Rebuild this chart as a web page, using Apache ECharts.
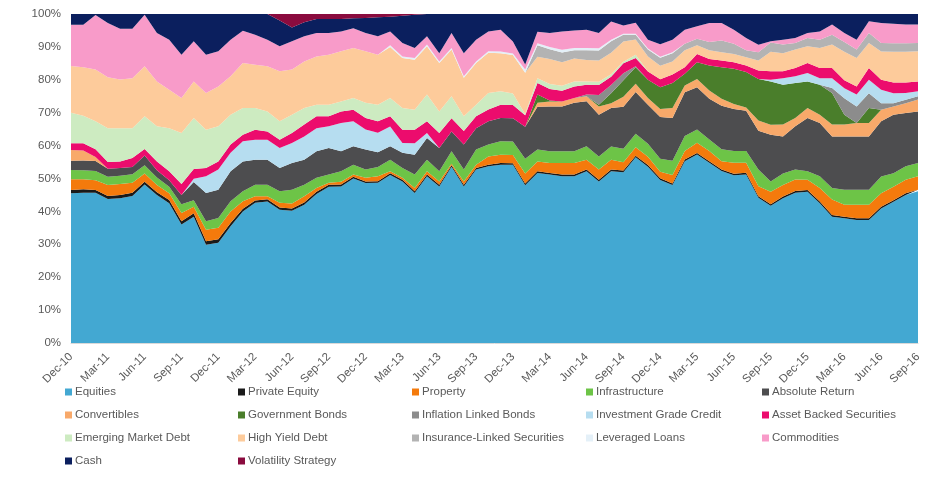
<!DOCTYPE html>
<html>
<head>
<meta charset="utf-8">
<style>
  html, body { margin: 0; padding: 0; background: #ffffff; }
  #chart { width: 926px; height: 477px; }
</style>
<script src="https://cdn.jsdelivr.net/npm/echarts@6/dist/echarts.min.js"></script>
</head>
<body>
<div id="chart"></div>
<script>
// Month-end dates, Dec-10 .. Sep-16
const months = [
  'Dec-10',
  'Jan-11','Feb-11','Mar-11','Apr-11','May-11','Jun-11','Jul-11','Aug-11','Sep-11','Oct-11','Nov-11','Dec-11',
  'Jan-12','Feb-12','Mar-12','Apr-12','May-12','Jun-12','Jul-12','Aug-12','Sep-12','Oct-12','Nov-12','Dec-12',
  'Jan-13','Feb-13','Mar-13','Apr-13','May-13','Jun-13','Jul-13','Aug-13','Sep-13','Oct-13','Nov-13','Dec-13',
  'Jan-14','Feb-14','Mar-14','Apr-14','May-14','Jun-14','Jul-14','Aug-14','Sep-14','Oct-14','Nov-14','Dec-14',
  'Jan-15','Feb-15','Mar-15','Apr-15','May-15','Jun-15','Jul-15','Aug-15','Sep-15','Oct-15','Nov-15','Dec-15',
  'Jan-16','Feb-16','Mar-16','Apr-16','May-16','Jun-16','Jul-16','Aug-16','Sep-16'
];

// Allocation weights (%) by asset class, one value per month
const equities = [45.5,45.7,45.7,43.8,44.0,44.7,48.2,45.0,42.5,36.0,38.4,29.9,30.5,35.5,40.0,42.6,43.0,40.5,40.2,42.0,45.3,47.5,47.6,50.0,48.6,48.7,51.1,49.1,45.6,50.7,47.6,53.6,47.6,52.7,53.7,54.2,54.2,48.1,51.7,51.2,50.7,50.7,52.2,49.1,52.2,51.6,56.6,53.6,50.0,48.0,55.1,57.1,54.6,52.1,50.8,51.1,44.0,41.7,44.0,45.7,46.0,42.5,38.4,37.9,37.4,37.4,40.9,42.9,45.0,46.1];
const privateEquity = [1.0,1.0,0.8,0.9,1.0,1.0,0.8,0.8,1.0,1.0,1.0,1.0,1.0,1.0,0.8,0.7,0.7,0.7,0.7,0.7,0.7,0.6,0.6,0.5,0.5,0.5,0.5,0.5,0.5,0.5,0.5,0.4,0.5,0.5,0.5,0.5,0.5,0.5,0.5,0.5,0.5,0.5,0.5,0.5,0.5,0.5,0.5,0.5,0.5,0.5,0.5,0.5,0.5,0.5,0.5,0.5,0.5,0.5,0.5,0.5,0.5,0.5,0.5,0.5,0.5,0.5,0.5,0.5,0.5,0.5];
const property = [3.3,3.1,3.0,3.3,3.3,3.0,2.5,2.2,2.0,2.5,2.0,3.5,3.5,3.5,2.3,1.3,0.9,1.4,1.5,1.9,1.1,0.6,0.8,0.7,1.1,1.5,0.6,0.6,1.0,1.0,1.0,0.5,1.0,1.0,2.5,2.5,2.5,3.1,3.0,3.0,3.5,3.5,3.0,3.1,3.0,2.5,2.6,2.5,2.0,2.6,2.6,3.1,3.1,2.5,3.3,3.0,3.0,3.8,3.5,3.5,3.1,4.1,4.7,3.6,4.1,4.1,4.1,4.1,4.1,4.1];
const infrastructure = [2.8,2.7,2.8,2.5,2.5,2.6,2.5,2.3,2.0,2.7,2.0,2.6,3.0,3.1,3.0,3.5,3.5,3.5,4.2,3.5,3.1,2.5,3.2,3.0,2.5,2.8,3.5,3.0,4.1,3.5,3.1,3.8,3.6,4.6,3.6,4.1,4.1,4.5,3.6,3.6,3.6,3.6,4.1,4.0,4.0,4.1,4.1,4.0,4.0,4.3,4.5,4.0,3.5,3.6,3.6,3.6,5.1,3.1,3.5,3.0,2.6,3.6,3.5,4.6,4.6,4.6,5.1,4.1,4.1,4.0];
const absoluteReturn = [2.8,3.0,3.0,2.5,2.4,2.2,3.0,2.2,2.0,2.8,5.5,8.6,8.6,9.1,9.1,7.6,7.6,7.1,8.1,7.6,8.1,8.1,6.1,5.6,6.1,4.5,4.1,4.6,6.0,6.6,7.1,6.0,7.6,6.5,7.1,7.1,7.1,9.7,13.0,13.6,13.6,14.7,13.7,12.7,11.7,12.7,12.7,11.8,12.8,13.0,13.3,12.8,12.3,13.2,12.7,12.2,11.7,14.2,11.3,13.2,16.2,16.2,15.7,16.2,16.2,16.2,16.8,17.8,16.2,15.7];
const convertibles = [3.3,3.0,1.2,0,0,0,0,0,0,0,0,0,0,0,0,0,0,0,0,0,0,0,0,0,0,0,0,0,0,0,0,0,0,0,0,0,0,0,1.2,1.5,1.5,1.5,1.5,2.5,1.5,3.0,2.5,2.1,2.5,3.0,2.0,2.5,2.5,2.1,1.5,1.0,3.1,3.0,3.6,2.5,3.0,2.5,3.6,3.6,4.1,4.1,3.5,2.5,3.0,3.6];
const governmentBonds = [0,0,0,0,0,0,0,0,0,0,0,0,0,0,0,0,0,0,0,0,0,0,0,0,0,0,0,0,0,0,0,0,0,0,0,0,0,0,2.5,0.3,0,0,0,0.5,3.0,5.0,5.1,5.5,6.6,7.6,3.6,5.1,7.6,9.6,10.7,10.7,12.6,13.2,12.1,10.6,8.1,9.1,9.6,3.0,0,4.5,0,0,0,0];
const inflationLinkedBonds = [0,0,0,0,0,0,0,0,0,0,0,0,0,0,0,0,0,0,0,0,0,0,0,0,0,0,0,0,0,0,0,0,0,0,0,0,0,0,0,0,0,0,0.5,3.0,2.5,2.1,0.3,0,0,0,0,0,0,0,0,0,0,0,0,0,0,0,1.5,5.0,5.0,4.5,2.0,1.0,1.0,1.0];
const investmentGradeCredit = [0,0,0,0,0,0,0,0,0,0,1.0,5.1,6.1,5.6,6.1,6.1,6.1,6.1,6.1,7.1,7.0,6.6,8.6,7.6,6.1,5.9,6.0,3.0,3.5,1.5,0,0,0,0,0,0,0,0,0,0,0,0,0,0,0,0,0,0,0,0,0,0,0,0,0,0,0,0.5,2.0,2.1,2.6,2.0,3.0,3.0,3.6,4.1,4.1,3.0,2.1,1.5];
const assetBackedSecurities = [2.0,2.2,2.4,2.0,2.0,2.7,2.0,2.7,2.7,3.3,3.0,2.5,2.5,2.5,2.0,3.0,2.5,2.5,3.0,3.6,3.6,3.0,3.5,3.5,3.5,3.5,3.1,4.0,4.1,3.6,4.5,4.0,4.1,3.6,3.6,4.0,4.0,3.5,3.5,3.5,3.3,3.5,3.0,3.0,2.5,3.0,2.5,2.5,2.5,2.6,2.0,2.5,2.0,2.0,2.0,2.0,2.6,2.6,2.1,2.5,3.0,3.1,3.1,2.5,2.5,3.6,3.0,3.3,3.2,3.0];
const emergingMarketDebt = [9.3,8.4,8.5,10.3,10.1,9.1,9.9,10.7,13.1,15.5,15.5,11.6,10.7,9.1,8.1,6.6,6.1,5.6,5.6,5.0,3.5,3.5,3.0,3.6,4.6,5.0,5.6,6.6,6.1,8.1,6.6,6.7,4.5,3.5,5.0,4.1,3.5,0.3,1.5,1.5,1.5,1.5,1.0,1.0,0.8,0.5,1.0,0,0,0,0,0,0,0,0,0,0,0,0,0,0,0,0,0,0,0,0,0,0,0];
const highYieldDebt = [14.2,14.7,15.7,15.5,14.8,15.2,15.2,13.6,11.7,10.7,11.1,11.2,12.1,11.7,13.7,13.2,13.7,15.2,13.7,14.2,14.7,15.2,15.3,15.2,15.7,15.2,15.5,15.2,15.2,14.7,14.7,14.2,11.7,12.7,12.2,11.6,11.7,12.7,6.5,7.6,7.1,7.0,6.5,6.5,6.5,6.1,4.6,4.6,4.1,4.0,5.1,2.6,2.6,2.5,2.5,2.5,3.0,5.9,5.5,5.6,5.1,6.1,7.1,8.6,8.6,7.6,8.6,9.3,9.3,9.2];
const insuranceLinked = [0,0,0,0,0,0,0,0,0,0,0,0,0,0,0,0,0,0,0,0,0,0,0,0,0,0,0,0,0,0,0,0,0,0,0,0,0,0,3.5,3.0,3.0,2.5,3.0,3.0,3.5,2.0,1.5,2.1,2.5,2.5,2.0,2.0,2.5,3.6,3.1,2.1,2.5,2.8,2.6,2.0,2.5,2.5,3.0,3.0,2.6,3.0,2.6,2.6,2.6,2.5];
const leveragedLoans = [0,0,0,0,0,0,0,0,0,0,0,0,0,0,0,0,0,0,0,0,0,0,0,0,0,0,0.5,0.5,0.5,0.5,0.5,0.5,0.5,0.5,0.5,0.5,0.5,1.0,0.6,0.7,0.8,0.7,0.7,0.7,0.5,0.3,0.3,0.3,0.3,0.3,0,0,0,0,0,0,0,0,0,0,0,0,0,0,0,0,0,0,0,0];
const commodities = [12.5,12.9,16.6,16.5,15.4,15.0,15.7,14.7,15.2,13.1,12.2,11.6,10.7,11.1,9.8,9.1,8.1,7.6,8.6,7.6,7.1,6.6,6.0,6.0,5.5,5.6,4.2,4.1,3.1,2.5,2.5,4.5,7.0,6.6,6.0,6.6,3.6,1.5,3.5,4.2,5.6,5.3,5.5,4.6,5.5,2.5,3.3,2.7,3.8,3.8,4.2,3.8,5.8,5.3,4.2,3.7,2.3,0.4,1.5,1.5,1.5,2.5,3.1,2.7,3.0,3.6,6.1,5.9,5.7,5.6];
const cash = [3.3,3.3,0.3,2.7,4.5,4.5,0.2,5.8,7.8,12.4,8.3,12.4,11.3,7.8,5.1,6.3,7.8,7.8,4.2,4.3,4.3,4.3,3.8,3.0,4.6,5.8,4.5,8.3,10.1,6.8,11.9,5.8,11.9,7.8,5.3,4.8,8.4,15.4,5.4,5.8,5.3,5.0,4.8,5.8,2.3,3.5,2.7,7.8,9.3,7.8,4.8,3.7,2.7,2.7,4.8,7.3,9.3,8.3,7.8,7.3,5.8,5.3,3.2,5.8,7.8,2.2,2.7,3.0,3.2,3.2];
const volatilityStrategy = [0,0,0,0,0,0,0,0,0,0,0,0,0,0,0,0,0,2.0,4.1,2.5,1.5,1.5,1.5,1.3,1.2,1.0,0.8,0.5,0.2,0,0,0,0,0,0,0,0,0,0,0,0,0,0,0,0,0,0,0,0,0,0,0,0,0,0,0,0,0,0,0,0,0,0,0,0,0,0,0,0,0];

// Stack order, bottom to top
const assetClasses = [
  { name: 'Equities',                    color: '#43A8D2', data: equities },
  { name: 'Private Equity',              color: '#1A1A1A', data: privateEquity },
  { name: 'Property',                    color: '#F47A0C', data: property },
  { name: 'Infrastructure',              color: '#6DC447', data: infrastructure },
  { name: 'Absolute Return',             color: '#4D4D4F', data: absoluteReturn },
  { name: 'Convertibles',                color: '#F8A96A', data: convertibles },
  { name: 'Government Bonds',            color: '#4A7E2B', data: governmentBonds },
  { name: 'Inflation Linked Bonds',      color: '#8C8C8C', data: inflationLinkedBonds },
  { name: 'Investment Grade Credit',     color: '#B6DDF0', data: investmentGradeCredit },
  { name: 'Asset Backed Securities',     color: '#EC0C6D', data: assetBackedSecurities },
  { name: 'Emerging Market Debt',        color: '#CDEBC1', data: emergingMarketDebt },
  { name: 'High Yield Debt',             color: '#FDCB9B', data: highYieldDebt },
  { name: 'Insurance-Linked Securities', color: '#B3B3B3', data: insuranceLinked },
  { name: 'Leveraged Loans',             color: '#E4F0F8', data: leveragedLoans },
  { name: 'Commodities',                 color: '#F89BC9', data: commodities },
  { name: 'Cash',                        color: '#0B1F5E', data: cash },
  { name: 'Volatility Strategy',         color: '#8A0B3E', data: volatilityStrategy }
];

// 100% stacked: each month's weights are expressed as a share of that month's total
const monthTotals = months.map((_, i) => assetClasses.reduce((s, a) => s + a.data[i], 0));

const FONT = "'Liberation Sans', Arial, sans-serif";
const TEXT = '#595959';

const legendColumns = [
  { left: 65,  names: ['Equities', 'Convertibles', 'Emerging Market Debt', 'Cash'] },
  { left: 238, names: ['Private Equity', 'Government Bonds', 'High Yield Debt', 'Volatility Strategy'] },
  { left: 412, names: ['Property', 'Inflation Linked Bonds', 'Insurance-Linked Securities'] },
  { left: 586, names: ['Infrastructure', 'Investment Grade Credit', 'Leveraged Loans'] },
  { left: 762, names: ['Absolute Return', 'Asset Backed Securities', 'Commodities'] }
];

const chart = echarts.init(document.getElementById('chart'), null, { renderer: 'canvas' });

chart.setOption({
  animation: false,
  backgroundColor: '#ffffff',
  grid: { left: 71, right: 8, top: 14, bottom: 134, containLabel: false },
  xAxis: {
    type: 'category',
    data: months,
    boundaryGap: false,
    axisLine: { show: true, lineStyle: { color: '#D9D9D9' } },
    axisTick: { show: false },
    axisLabel: {
      interval: 2,
      rotate: 45,
      color: TEXT,
      fontFamily: FONT,
      fontSize: 11.5,
      margin: 12
    },
    splitLine: { show: false }
  },
  yAxis: {
    type: 'value',
    min: 0,
    max: 100,
    interval: 10,
    axisLine: { show: false },
    axisTick: { show: false },
    splitLine: { show: false },
    axisLabel: {
      formatter: '{value}%',
      color: TEXT,
      fontFamily: FONT,
      fontSize: 11.5,
      margin: 10
    }
  },
  legend: legendColumns.map(col => ({
    orient: 'vertical',
    left: col.left,
    top: 385,
    padding: 0,
    itemGap: 9,
    itemWidth: 7,
    itemHeight: 7,
    icon: 'rect',
    selectedMode: false,
    data: col.names,
    textStyle: { color: TEXT, fontFamily: FONT, fontSize: 11.5, lineHeight: 14, padding: [0, 0, 0, -2] }
  })),
  series: assetClasses.map(a => ({
    name: a.name,
    type: 'line',
    stack: 'allocation',
    symbol: 'none',
    smooth: false,
    color: a.color,
    lineStyle: { width: 0 },
    areaStyle: { color: a.color, opacity: 1 },
    emphasis: { disabled: true },
    data: a.data.map((v, i) => v / monthTotals[i] * 100)
  }))
});
</script>
</body>
</html>
